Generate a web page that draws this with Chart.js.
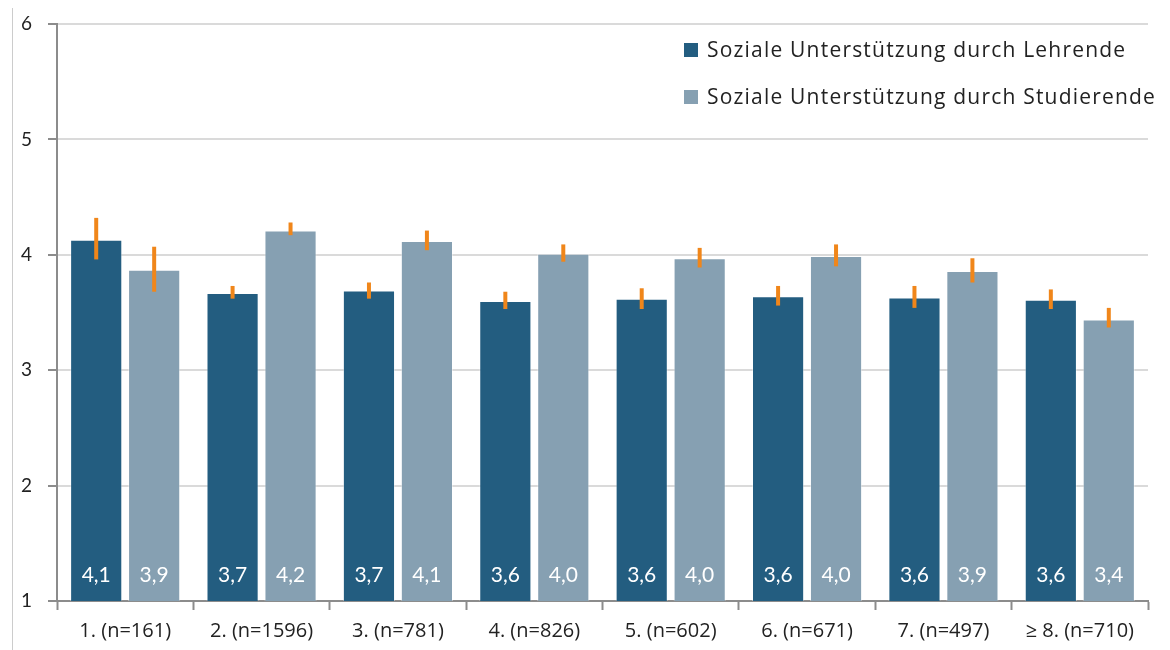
<!DOCTYPE html>
<html>
<head>
<meta charset="utf-8">
<script src="https://cdn.jsdelivr.net/npm/chart.js@4"></script>
<style>
  html, body { margin: 0; padding: 0; background: #fff; }
  #wrap { position: relative; width: 1170px; height: 650px; }
  #legend { position: absolute; left: 684px; top: 34px; font-family: "Open Sans", sans-serif; font-size: 21px; letter-spacing: 1.2px; color: #222; }
  #legend div { height: 47px; line-height: 30px; white-space: nowrap; }
  #legend span { display: inline-block; width: 14px; height: 14px; margin-right: 9px; vertical-align: 0px; }
</style>
</head>
<body>
<div id="wrap">
  <canvas id="chart" width="1170" height="650"></canvas>
  <div id="legend"></div>
</div>
<script>
// Daten
const categories = ["1. (n=161)", "2. (n=1596)", "3. (n=781)", "4. (n=826)", "5. (n=602)", "6. (n=671)", "7. (n=497)", "\u2265 8. (n=710)"];
const lehrende = [4.13, 3.67, 3.69, 3.60, 3.62, 3.64, 3.63, 3.61];
const lehrendeLow = [3.96, 3.62, 3.62, 3.53, 3.53, 3.56, 3.54, 3.53];
const lehrendeHigh = [4.32, 3.73, 3.76, 3.68, 3.71, 3.73, 3.73, 3.70];
const studierende = [3.87, 4.21, 4.12, 4.01, 3.97, 3.99, 3.86, 3.44];
const studierendeLow = [3.68, 4.17, 4.04, 3.94, 3.89, 3.90, 3.76, 3.37];
const studierendeHigh = [4.07, 4.28, 4.21, 4.09, 4.06, 4.09, 3.97, 3.54];
const yTicks = [1, 2, 3, 4, 5, 6];

const colDark = "#235d80";
const colLight = "#86a0b2";
const colErr = "#f0861a";
const fontFam = "Lato, sans-serif";

const errorBars = {
  id: "errorBars",
  afterDatasetsDraw(chart) {
    const ctx = chart.ctx;
    const y = chart.scales.y;
    const ranges = [[lehrendeLow, lehrendeHigh], [studierendeLow, studierendeHigh]];
    ctx.save();
    ctx.strokeStyle = colErr;
    ctx.lineWidth = 4;
    ranges.forEach((r, di) => {
      chart.getDatasetMeta(di).data.forEach((bar, i) => {
        ctx.beginPath();
        ctx.moveTo(bar.x, y.getPixelForValue(r[0][i]));
        ctx.lineTo(bar.x, y.getPixelForValue(r[1][i]));
        ctx.stroke();
      });
    });
    // Werte unten im Balken
    ctx.fillStyle = "#fff";
    ctx.font = "21px " + fontFam;
    ctx.textAlign = "center";
    ctx.textBaseline = "middle";
    chart.data.datasets.forEach((ds, di) => {
      chart.getDatasetMeta(di).data.forEach((bar, i) => {
        const txt = ds.data[i].toFixed(1).replace(".", ",");
        ctx.fillText(txt, bar.x, y.bottom - 26);
      });
    });
    ctx.restore();
  }
};

const frameLine = {
  id: "frameLine",
  beforeDraw(chart) {
    const ctx = chart.ctx;
    ctx.save();
    ctx.strokeStyle = "#cccccc";
    ctx.lineWidth = 1;
    ctx.beginPath();
    ctx.moveTo(12.5, 8);
    ctx.lineTo(12.5, 650);
    ctx.stroke();
    ctx.restore();
  }
};

function setup() {
  const ctx = document.getElementById("chart").getContext("2d");
  new Chart(ctx, {
    type: "bar",
    data: {
      labels: categories,
      datasets: [
        { label: "Soziale Unterstützung durch Lehrende", data: lehrende, backgroundColor: colDark, borderColor: "rgba(255,255,255,0.4)", borderWidth: 1 },
        { label: "Soziale Unterstützung durch Studierende", data: studierende, backgroundColor: colLight, borderColor: "rgba(255,255,255,0.4)", borderWidth: 1 }
      ]
    },
    options: {
      responsive: false,
      animation: false,
      events: [],
      layout: { padding: { top: 24, right: 22, left: 0, bottom: 0 } },
      datasets: { bar: { categoryPercentage: 0.85, barPercentage: 0.9 } },
      plugins: { legend: { display: false }, tooltip: { enabled: false } },
      scales: {
        x: {
          afterFit: s => { s.height = 49; },
          grid: { drawOnChartArea: false, drawTicks: true, tickLength: 9, tickColor: "#8c8c8c", tickWidth: 2 },
          border: { color: "#8c8c8c", width: 2 },
          ticks: { color: "#222", font: { family: "'Open Sans', sans-serif", size: 20 }, padding: 9, maxRotation: 0 }
        },
        y: {
          min: 1,
          max: 6,
          afterFit: s => { s.width = 57; s.paddingTop = 0; s.paddingBottom = 0; },
          afterBuildTicks: s => { s.ticks = yTicks.map(v => ({ value: v })); },
          grid: { color: "#dadada", lineWidth: 2, tickLength: 9, tickColor: "#8c8c8c", tickWidth: 2 },
          border: { color: "#8c8c8c", width: 2 },
          ticks: { color: "#222", font: { family: fontFam, size: 19 }, padding: 16 }
        }
      }
    },
    plugins: [errorBars, frameLine]
  });

  const legend = document.getElementById("legend");
  [[colDark, "Soziale Unterstützung durch Lehrende"], [colLight, "Soziale Unterstützung durch Studierende"]].forEach(([c, t]) => {
    const row = document.createElement("div");
    const box = document.createElement("span");
    box.style.background = c;
    row.appendChild(box);
    row.appendChild(document.createTextNode(t));
    legend.appendChild(row);
  });
}

window.onload = setup;
</script>
</body>
</html>
